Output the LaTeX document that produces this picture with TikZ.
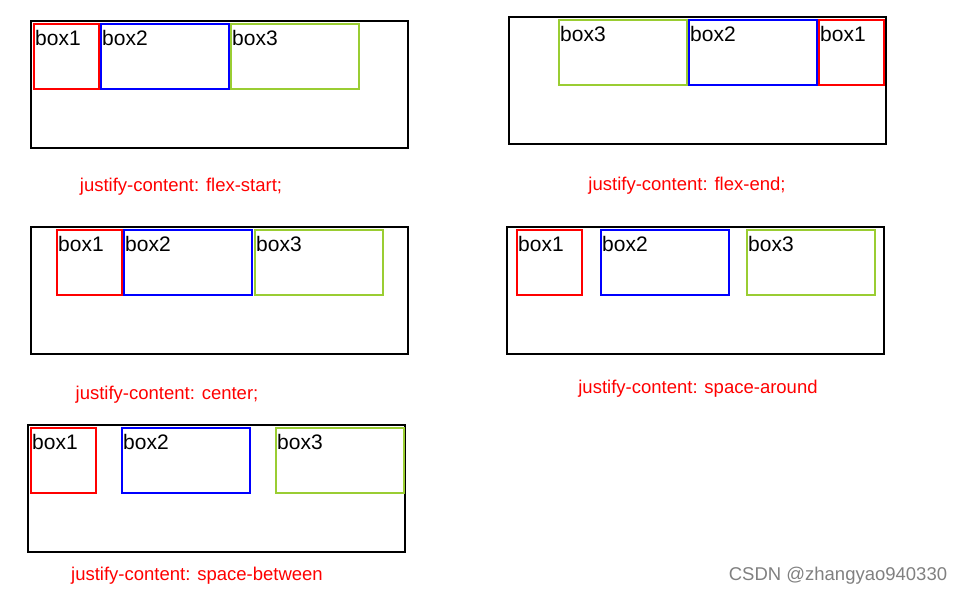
\documentclass[tikz,border=0pt]{standalone}
\usepackage{fontspec}
\setmainfont{Liberation Sans}
\definecolor{itemgreen}{RGB}{154,205,50}

\begin{document}
\begin{tikzpicture}[
  x=1pt,y=-1pt,
  container/.style={draw,line width=2pt,anchor=north west,minimum width=377pt,minimum height=127pt,inner sep=0pt,outer sep=0pt},
  item/.style={draw,line width=2pt,anchor=north west,minimum height=65pt,inner sep=0pt,outer sep=0pt,
    label={[anchor=north west,inner sep=0pt,xshift=1pt,yshift=-6.5pt,font=\fontsize{21}{24}\selectfont]north west:#1}},
  itemA/.style={item=box1,draw=red,minimum width=65pt},
  itemB/.style={item=box2,draw=blue,minimum width=128pt},
  itemC/.style={item=box3,draw=itemgreen,minimum width=128pt},
  caption/.style={text=red,font=\fontsize{18.5}{21}\selectfont}
]
  \useasboundingbox (0,0) rectangle (965,595);

  % flex-start
  \node[container] (start) at (31,21) {};
  \node[itemA] (start1) at (34,24) {};
  \node[itemB] (start2) at (101,24) {};
  \node[itemC] (start3) at (231,24) {};
  \node[caption] (startcap) at (181,187) {justify-content: flex-start;};

  % flex-end
  \node[container] (end) at (509,17) {};
  \node[itemC] (end3) at (559,20) {};
  \node[itemB] (end2) at (689,20) {};
  \node[itemA] (end1) at (819,20) {};
  \node[caption] (endcap) at (687,186) {justify-content: flex-end;};

  % center
  \node[container] (center) at (31,227) {};
  \node[itemA] (center1) at (57,230) {};
  \node[itemB] (center2) at (124,230) {};
  \node[itemC] (center3) at (255,230) {};
  \node[caption] (centercap) at (167,395) {justify-content: center;};

  % space-around
  \node[container] (around) at (507,227) {};
  \node[itemA] (around1) at (517,230) {};
  \node[itemB] (around2) at (601,230) {};
  \node[itemC] (around3) at (747,230) {};
  \node[caption] (aroundcap) at (698,389) {justify-content: space-around};

  % space-between
  \node[container] (between) at (28,425) {};
  \node[itemA] (between1) at (31,428) {};
  \node[itemB] (between2) at (122,428) {};
  \node[itemC] (between3) at (276,428) {};
  \node[caption] (betweencap) at (197,576) {justify-content: space-between};

  \node[text=gray,font=\fontsize{18.5}{21}\selectfont] (mark) at (838,576) {CSDN @zhangyao940330};
\end{tikzpicture}
\end{document}
